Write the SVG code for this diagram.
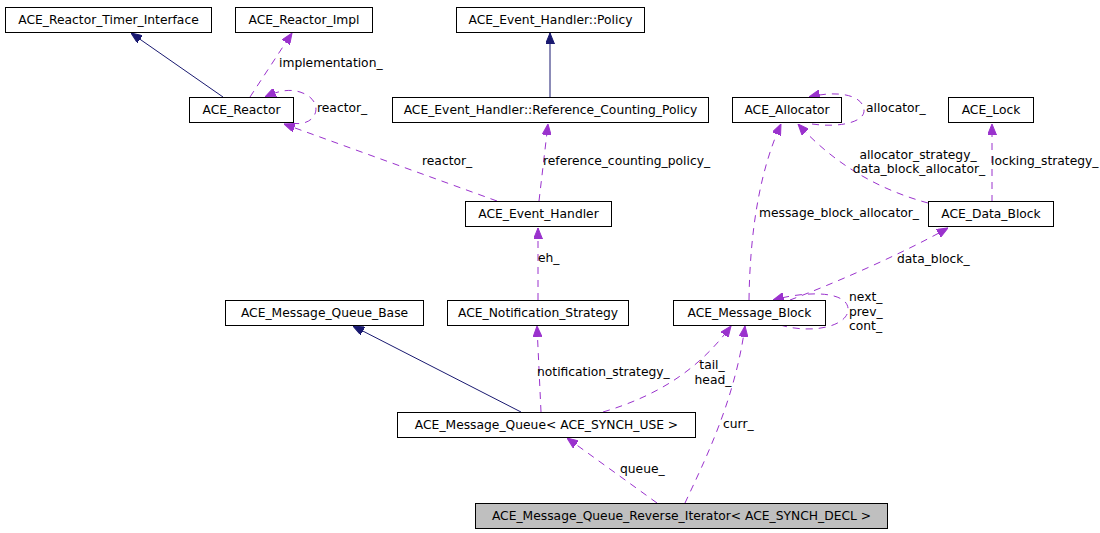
<svg xmlns="http://www.w3.org/2000/svg" width="1100" height="533" viewBox="0 0 1100 533">
<style>
.box{fill:#fff;stroke:#000;stroke-width:1}
.cur{fill:#bfbfbf;stroke:#000;stroke-width:1}
text{font-family:"DejaVu Sans","Liberation Sans",sans-serif;font-size:12.3px;fill:#000}
.nt{text-anchor:middle}
.inh{fill:none;stroke:#191970;stroke-width:1}
.use{fill:none;stroke:#9a32cd;stroke-width:1;stroke-dasharray:7,6}
</style>
<defs>
<marker id="an" markerUnits="userSpaceOnUse" viewBox="0 0 11 9" refX="11" refY="4.5" markerWidth="11" markerHeight="9" orient="auto">
<path d="M0,0 L11,4.5 L0,9 z" fill="#191970" stroke="#191970" stroke-width="1"/>
</marker>
<marker id="ap" markerUnits="userSpaceOnUse" viewBox="0 0 11 9" refX="11" refY="4.5" markerWidth="11" markerHeight="9" orient="auto">
<path d="M0,0 L11,4.5 L0,9 z" fill="#9a32cd" stroke="#9a32cd" stroke-width="1"/>
</marker>
</defs>
<rect width="1100" height="533" fill="#fff"/>
<g id="edges">
<path class="inh" d="M223,97 L131,33" marker-end="url(#an)"/>
<path class="use" d="M250,97 L292,33" marker-end="url(#ap)"/>
<text x="279" y="67">implementation_</text>
<path class="use" d="M292,123 C318,128 326,100 300,92 C290,89 280,90 265,97" marker-end="url(#ap)"/>
<text x="317" y="112">reactor_</text>
<path class="use" d="M497,201 L284,124" marker-end="url(#ap)"/>
<text x="422" y="165">reactor_</text>
<path class="use" d="M539,201 L548,124" marker-end="url(#ap)"/>
<text x="543" y="165">reference_counting_policy_</text>
<path class="inh" d="M550,97 L550,33" marker-end="url(#an)"/>
<path class="use" d="M538,300 L538,228" marker-end="url(#ap)"/>
<text x="538" y="262">eh_</text>
<path class="inh" d="M521,412 L353,326" marker-end="url(#an)"/>
<path class="use" d="M541,412 L537,326" marker-end="url(#ap)"/>
<text x="537" y="376">notification_strategy_</text>
<path class="use" d="M603,412 C660,395 700,368 731,326" marker-end="url(#ap)"/>
<text class="nt" x="712" y="369">tail_</text>
<text class="nt" x="713" y="384">head_</text>
<path class="use" d="M657,503 L567,438" marker-end="url(#ap)"/>
<text x="620" y="473">queue_</text>
<path class="use" d="M685,503 C705,460 735,400 745,326" marker-end="url(#ap)"/>
<text x="723" y="428">curr_</text>
<path class="use" d="M780,325 C815,335 850,325 848,308 C846,292 810,290 773,300" marker-end="url(#ap)"/>
<text x="849" y="301">next_</text>
<text x="849" y="316">prev_</text>
<text x="849" y="330">cont_</text>
<path class="use" d="M790,300 C830,285 900,255 948,228" marker-end="url(#ap)"/>
<text x="897" y="263">data_block_</text>
<path class="use" d="M749,300 C750,230 760,170 781,124" marker-end="url(#ap)"/>
<text x="759" y="217">message_block_allocator_</text>
<path class="use" d="M928,203 C880,190 835,165 798,124" marker-end="url(#ap)"/>
<text class="nt" x="918" y="159">allocator_strategy_</text>
<text class="nt" x="919" y="173">data_block_allocator_</text>
<path class="use" d="M992,202 L992,124" marker-end="url(#ap)"/>
<text x="991" y="165">locking_strategy_</text>
<path class="use" d="M812,124 C840,128 865,122 864,110 C863,95 838,90 809,97" marker-end="url(#ap)"/>
<text x="866" y="112">allocator_</text>
</g>
<g id="n_timer"><rect class="box" x="5.5" y="7.5" width="206" height="25"/><text class="nt" x="108.5" y="24">ACE_Reactor_Timer_Interface</text></g>
<g id="n_impl"><rect class="box" x="235.5" y="7.5" width="137" height="25"/><text class="nt" x="304" y="24">ACE_Reactor_Impl</text></g>
<g id="n_policy"><rect class="box" x="456.5" y="7.5" width="188" height="25"/><text class="nt" x="550.5" y="24">ACE_Event_Handler::Policy</text></g>
<g id="n_reactor"><rect class="box" x="189.5" y="97.5" width="104" height="25"/><text class="nt" x="241.5" y="114">ACE_Reactor</text></g>
<g id="n_rcp"><rect class="box" x="392.5" y="97.5" width="316" height="25"/><text class="nt" x="550.5" y="114">ACE_Event_Handler::Reference_Counting_Policy</text></g>
<g id="n_alloc"><rect class="box" x="732.5" y="97.5" width="109" height="25"/><text class="nt" x="787" y="114">ACE_Allocator</text></g>
<g id="n_lock"><rect class="box" x="948.5" y="97.5" width="85" height="25"/><text class="nt" x="991" y="114">ACE_Lock</text></g>
<g id="n_eh"><rect class="box" x="465.5" y="201.5" width="146" height="25"/><text class="nt" x="538.5" y="218">ACE_Event_Handler</text></g>
<g id="n_db"><rect class="box" x="928.5" y="201.5" width="125" height="25"/><text class="nt" x="991" y="218">ACE_Data_Block</text></g>
<g id="n_mqb"><rect class="box" x="225.5" y="300.5" width="198" height="25"/><text class="nt" x="324.5" y="317">ACE_Message_Queue_Base</text></g>
<g id="n_ns"><rect class="box" x="447.5" y="300.5" width="181" height="25"/><text class="nt" x="538" y="317">ACE_Notification_Strategy</text></g>
<g id="n_mb"><rect class="box" x="673.5" y="300.5" width="152" height="25"/><text class="nt" x="749.5" y="317">ACE_Message_Block</text></g>
<g id="n_mq"><rect class="box" x="397.5" y="412.5" width="298" height="25"/><text class="nt" x="546.5" y="429">ACE_Message_Queue&lt; ACE_SYNCH_USE &gt;</text></g>
<g id="n_rit"><rect class="cur" x="475.5" y="503.5" width="412" height="25"/><text class="nt" x="681.5" y="520">ACE_Message_Queue_Reverse_Iterator&lt; ACE_SYNCH_DECL &gt;</text></g>
</svg>
